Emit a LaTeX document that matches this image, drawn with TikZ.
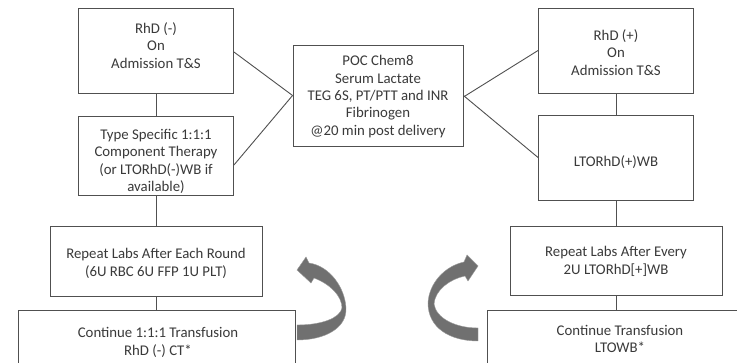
\documentclass[tikz,border=0pt]{standalone}
\usepackage{fontspec}
\setmainfont{Carlito}
\definecolor{linegray}{HTML}{505050}
\definecolor{txtgray}{HTML}{3A3A3A}
\definecolor{arrowgray}{HTML}{707070}
\begin{document}
\begin{tikzpicture}[x=1pt,y=-1pt,
  box/.style={draw=linegray, line width=0.9pt, fill=white, inner sep=0pt},
  txt/.style={text=txtgray, align=center, inner sep=0pt, font=\fontsize{14.8}{17.3}\selectfont},
  conn/.style={draw=linegray, line width=0.9pt},
  curvearrow/.style={fill=arrowgray, draw=arrowgray!70!white, line width=0.4pt}]
\useasboundingbox (0,0) rectangle (737,363);
\clip (0,0) rectangle (737,363);
\fill[white] (0,0) rectangle (737,363);

% boxes
\node[box, minimum width=155pt, minimum height=85pt] (A) at (156,50.5) {};
\node[box, minimum width=155pt, minimum height=79pt] (B) at (156,155.5) {};
\node[box, minimum width=212pt, minimum height=70pt] (C) at (156,261) {};
\node[box, minimum width=277pt, minimum height=70pt] (D) at (156.5,345) {};
\node[box, minimum width=170pt, minimum height=101pt] (M) at (378,95.5) {};
\node[box, minimum width=155pt, minimum height=85pt] (E) at (616,50.5) {};
\node[box, minimum width=155pt, minimum height=85pt] (F) at (616,157.5) {};
\node[box, minimum width=212pt, minimum height=69pt] (G) at (616,260.5) {};
\node[box, minimum width=273pt, minimum height=70pt] (H) at (623.5,345) {};

% texts
\node[txt] (At) at (156,45.5) {RhD (-)\\On\\Admission T\&S};
\node[txt] (Bt) at (156,161.5) {Type Specific 1:1:1\\Component Therapy\\(or LTORhD(-)WB if\\available)};
\node[txt] (Ct) at (156,263.5) {Repeat Labs After Each Round\\(6U RBC 6U FFP 1U PLT)};
\node[txt] (Dt) at (158,342.5) {Continue 1:1:1 Transfusion\\RhD (-) CT*};
\node[txt] (Mt) at (378,96.5) {POC Chem8\\Serum Lactate\\TEG 6S, PT/PTT and INR\\Fibrinogen\\@20 min post delivery};
\node[txt] (Et) at (616,52.5) {RhD (+)\\On\\Admission T\&S};
\node[txt] (Ft) at (616,162) {LTORhD(+)WB};
\node[txt] (Gt) at (616,261.5) {Repeat Labs After Every\\2U LTORhD[+]WB};
\node[txt] (Ht) at (620,339) {Continue Transfusion\\LTOWB*};

% connectors
\draw[conn] (A.south) -- (B.north);
\draw[conn] (B.south) -- (B.south |- C.north);
\draw[conn] (C.south) -- (C.south |- D.north);
\draw[conn] (E.south) -- (F.north);
\draw[conn] (F.south) -- (F.south |- G.north);
\draw[conn] (G.south) -- (G.south |- H.north);
\draw[conn] ([yshift=-1.5pt]A.east) -- (M.west);
\draw[conn] ([yshift=-9.5pt]B.east) -- (M.west);
\draw[conn] ([yshift=-1.5pt]M.east) -- (E.west);
\draw[conn] (M.east) -- (F.west);

% curved arrows
\draw[curvearrow] (297,325) -- (297,340)
  .. controls (325,340) and (347,328) .. (346,308)
  .. controls (345,288) and (330,266) .. (309,263)
  -- (306,257) -- (297,270) -- (311,283) -- (314,278)
  .. controls (330,284) and (342,296) .. (342,308)
  .. controls (340,318) and (322,325) .. (297,325) -- cycle;
\draw[curvearrow] (478,328) -- (478,341)
  .. controls (450,341) and (428,328) .. (428,303)
  .. controls (429,283) and (445,266) .. (464,262)
  -- (467,255) -- (478,266) -- (468,281) -- (465,276)
  .. controls (450,279) and (435,290) .. (434,304)
  .. controls (436,318) and (455,328) .. (478,328) -- cycle;
\end{tikzpicture}
\end{document}
